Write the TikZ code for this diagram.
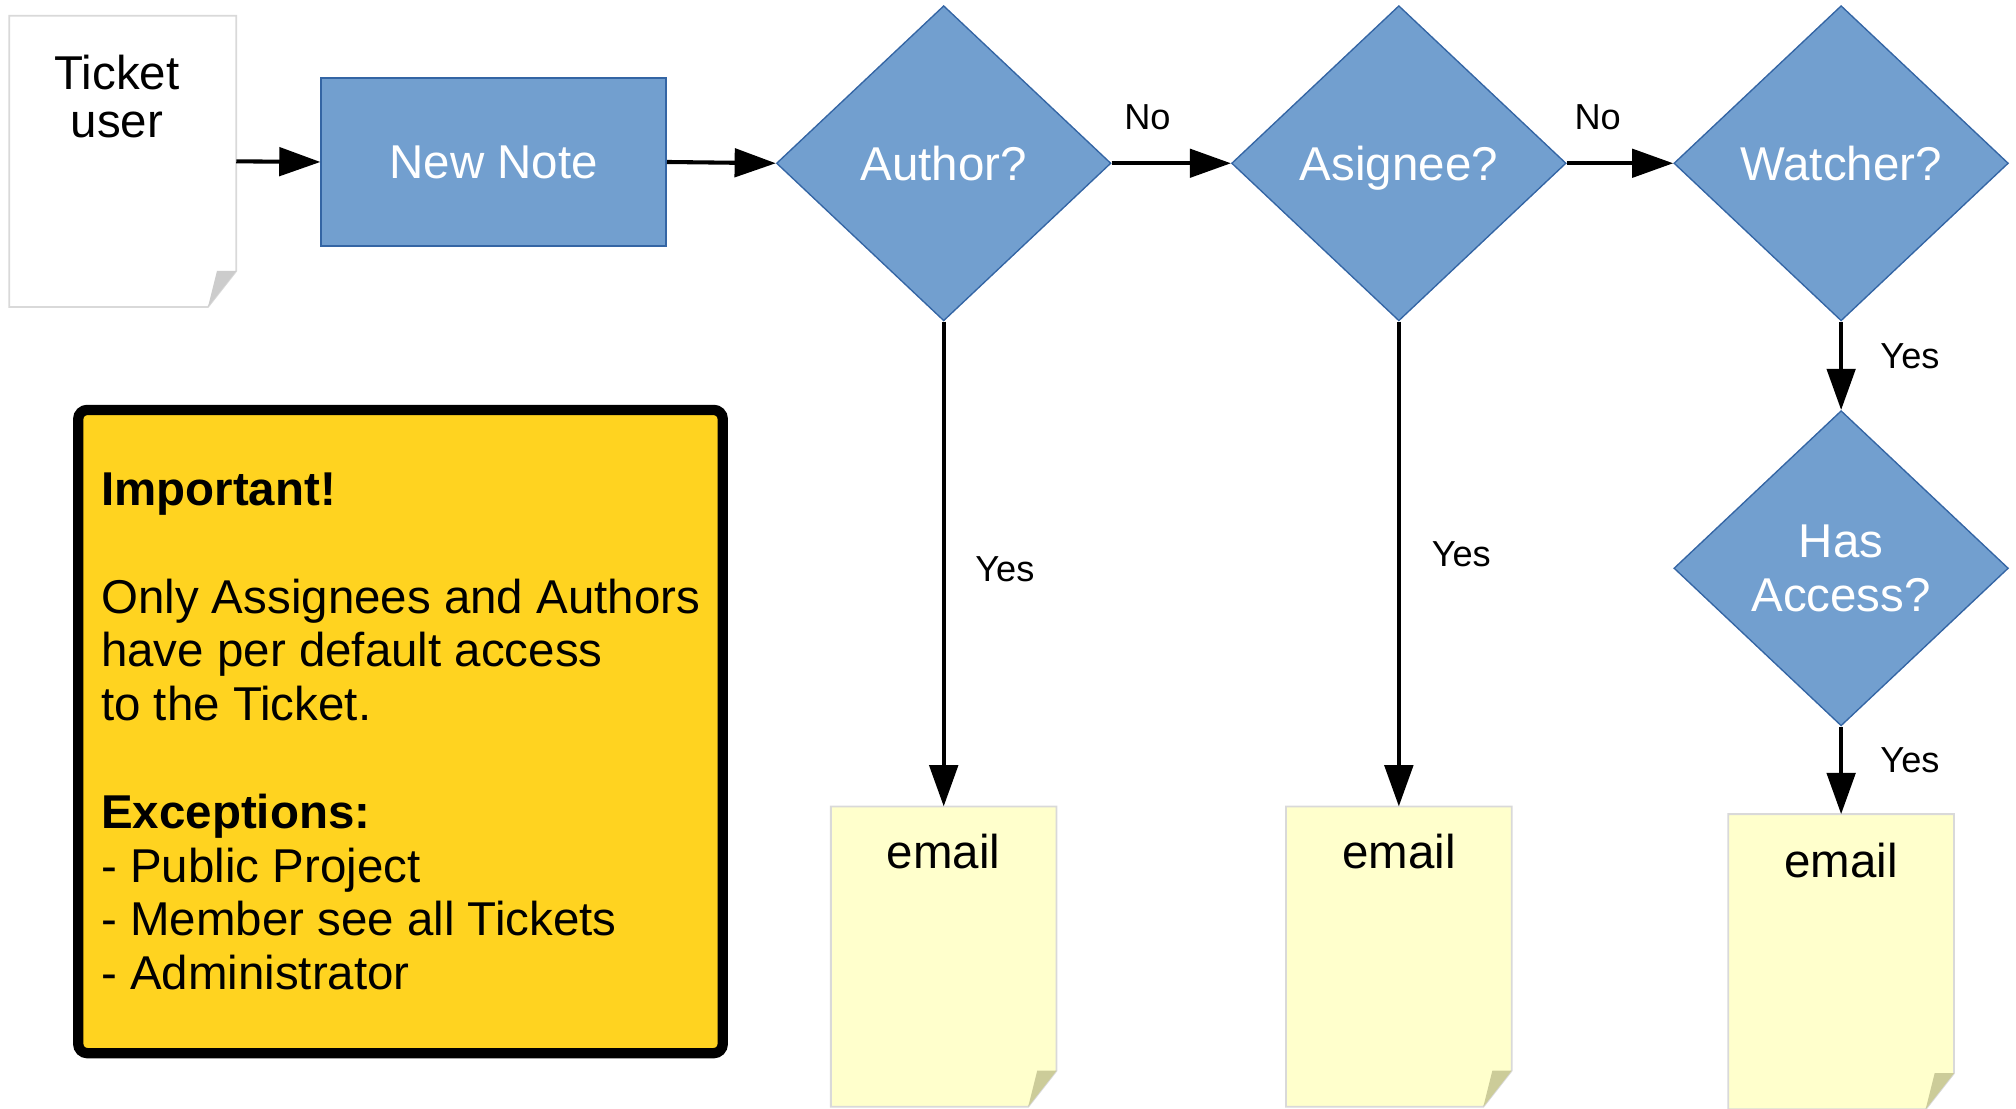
\documentclass[tikz,border=0pt]{standalone}
\usepackage{fontspec}
\setmainfont{Liberation Sans}
\usetikzlibrary{shapes.geometric,arrows.meta}
\definecolor{flowblue}{HTML}{729FCF}
\definecolor{flowedge}{HTML}{3465A4}
\definecolor{noteyellow}{HTML}{FFFFCC}
\definecolor{noteedge}{HTML}{D9D9D9}
\definecolor{foldgray}{HTML}{CCCCCC}
\definecolor{foldyellow}{HTML}{CCCC99}
\definecolor{hintyellow}{HTML}{FFD320}
\begin{document}
\begin{tikzpicture}[x=0.01cm,y=-0.01cm,
    font=\fontsize{10.5}{12}\selectfont,
    flowbox/.style={rectangle,draw=flowedge,line width=0.4pt,fill=flowblue,text=white,minimum width=2.68cm,minimum height=1.3cm},
    decision/.style={diamond,draw=flowedge,line width=0.3pt,fill=flowblue,text=white,align=center,inner sep=0pt,text depth=0pt,minimum width=2.6cm,minimum height=2.45cm},
    paper/.style={rectangle,inner sep=0pt,minimum width=1.74cm,minimum height=2.32cm},
    flow/.style={line width=0.9pt,-{Triangle[length=0.32cm,width=0.22cm]}},
    yesno/.style={font=\fontsize{8}{9.6}\selectfont,inner sep=0pt}]
    \useasboundingbox (0,0) rectangle (1568,862);
    %% Paper notes
    \node[paper,minimum width=1.75cm,minimum height=2.25cm] (ticket) at (95.5,125.5) {};
    \node[paper] (mail1) at (734,744) {};
    \node[paper] (mail2) at (1088,744) {};
    \node[paper,minimum height=2.28cm] (mail3) at (1432,748) {};
    \foreach \n/\c/\f in {ticket/white/foldgray,mail1/noteyellow/foldyellow,mail2/noteyellow/foldyellow,mail3/noteyellow/foldyellow}{
        \draw[noteedge,fill=\c,line width=0.4pt] (\n.north west) -- (\n.north east) -- ([yshift=0.28cm]\n.south east) -- ([xshift=-0.22cm]\n.south east) -- (\n.south west) -- cycle;
        \fill[\f] ([yshift=0.28cm]\n.south east) -- ([xshift=-0.22cm]\n.south east) -- ([xshift=-0.15cm,yshift=0.28cm]\n.south east) -- cycle;
    }
    \node[align=center,font=\fontsize{10.5}{10.5}\selectfont] (ticketlabel) at (91,75) {Ticket\\user};
    \node (mail1label) at ([yshift=-0.35cm]mail1.north) {email};
    \node (mail2label) at ([yshift=-0.35cm]mail2.north) {email};
    \node (mail3label) at ([yshift=-0.36cm]mail3.north) {email};
    %% Flow
    \node[flowbox] (newnote) at (384,126) {New Note};
    \node[decision] (author) at (734,127) {Author?};
    \node[decision] (asignee) at (1088,127) {Asignee?};
    \node[decision] (watcher) at (1432,127) {Watcher?};
    \node[decision] (access) at (1432,442) {Has\\Access?};
    %% Hint box
    \node[draw=black,line width=0.08cm,rounded corners=2pt,fill=hintyellow,minimum width=5.01cm,minimum height=5cm] (important) at (311.5,569) {};
    \node[anchor=north west,align=left,inner sep=0pt,font=\fontsize{10.5}{11.9}\selectfont] (hint) at (78,367) {\textbf{Important!}\\[11.9pt] Only Assignees and Authors\\ have per default access\\ to the Ticket.\\[11.9pt] \textbf{Exceptions:}\\ - Public Project\\ - Member see all Tickets\\ - Administrator};
    %% Arrows
    \draw[flow] (ticket.east) -- (newnote.west);
    \draw[flow] (newnote.east) -- (author.west);
    \draw[flow] (author.east) -- (asignee.west) node[yesno,pos=0.3,above=0.24cm] (no1) {No};
    \draw[flow] (asignee.east) -- (watcher.west) node[yesno,pos=0.29,above=0.24cm] (no2) {No};
    \draw[flow] (author.south) -- (mail1.north) node[yesno,pos=0.51,right=0.23cm] (yes1) {Yes};
    \draw[flow] (asignee.south) -- (mail2.north) node[yesno,pos=0.48,right=0.24cm] (yes2) {Yes};
    \draw[flow] (watcher.south) -- (access.north) node[yesno,pos=0.39,right=0.29cm] (yes3) {Yes};
    \draw[flow] (access.south) -- (mail3.north) node[yesno,pos=0.38,right=0.29cm] (yes4) {Yes};
\end{tikzpicture}
\end{document}
